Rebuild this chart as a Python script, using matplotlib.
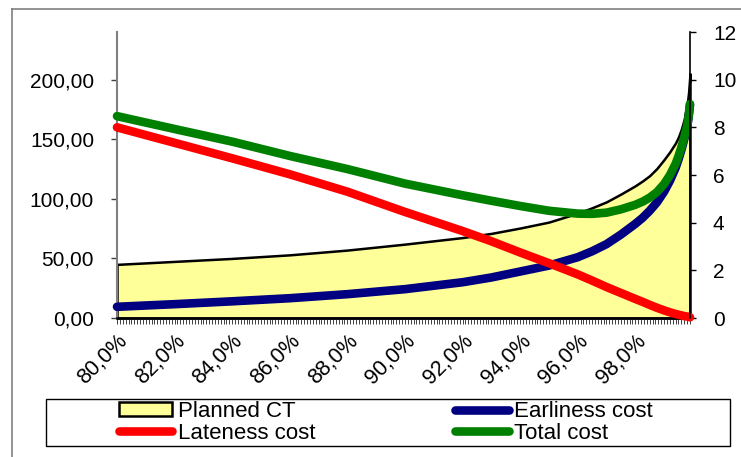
import matplotlib.pyplot as plt
from matplotlib.lines import Line2D
from matplotlib.patches import Patch, Rectangle
from matplotlib.ticker import MultipleLocator

plt.rcParams['font.family'] = ['Liberation Sans', 'DejaVu Sans']

# service level (%) and the values read at each level
service = [80.0, 82.0, 84.0, 86.0, 88.0, 90.0, 92.0, 93.0, 94.0, 95.0, 96.0,
           96.5, 97.0, 97.5, 98.0, 98.25, 98.5, 98.75, 99.0, 99.2, 99.4,
           99.5, 99.6, 99.7, 99.8, 99.85, 99.9]
planned_ct = [45, 47.5, 50, 53, 57, 62, 67.5, 71, 75.5, 80.5, 88,
              92.5, 97.5, 104, 111, 115, 119.5, 125.5, 133, 139.5, 147,
              152, 158.5, 167, 179, 189, 205]
earliness = [0.47, 0.58, 0.70, 0.83, 1.0, 1.21, 1.5, 1.7, 1.95, 2.2, 2.55,
             2.8, 3.1, 3.5, 3.95, 4.2, 4.5, 4.85, 5.3, 5.75, 6.3,
             6.65, 7.05, 7.5, 8.0, 8.4, 8.95]
lateness = [8.0, 7.35, 6.7, 6.03, 5.3, 4.45, 3.65, 3.22, 2.75, 2.3, 1.83,
            1.57, 1.3, 1.05, 0.8, 0.68, 0.55, 0.43, 0.32, 0.24, 0.17,
            0.14, 0.11, 0.08, 0.06, 0.05, 0.03]
total = [8.47, 7.93, 7.4, 6.8, 6.25, 5.64, 5.15, 4.92, 4.7, 4.5, 4.38,
         4.37, 4.42, 4.56, 4.75, 4.88, 5.05, 5.28, 5.62, 5.99, 6.47,
         6.79, 7.16, 7.58, 8.06, 8.45, 8.98]

x_ticks = [80, 82, 84, 86, 88, 90, 92, 94, 96, 98]
x_labels = ["80,0%", "82,0%", "84,0%", "86,0%", "88,0%",
            "90,0%", "92,0%", "94,0%", "96,0%", "98,0%"]
ct_ticks = [0, 50, 100, 150, 200]
ct_labels = ["0,00", "50,00", "100,00", "150,00", "200,00"]
cost_ticks = [0, 2, 4, 6, 8, 10, 12]

W, H = 741, 457
fig = plt.figure(figsize=(W / 100, H / 100), dpi=100)
ax1 = fig.add_axes([117 / W, 1 - 318 / H, 573 / W, 286 / H])
ax2 = ax1.twinx()

ax1.fill_between(service, planned_ct, 0, facecolor='#FFFF99',
                 edgecolor='black', linewidth=1.8, clip_on=False)

lw = 6.2
ax2.plot(service, earliness, color='#000080', lw=lw, solid_capstyle='round',
         solid_joinstyle='round', clip_on=False)
ax2.plot(service, lateness, color='#FF0000', lw=lw, solid_capstyle='round',
         solid_joinstyle='round', clip_on=False)
ax2.plot(service, total, color='#008000', lw=lw, solid_capstyle='round',
         solid_joinstyle='round', clip_on=False)

ax1.set_xlim(80, 99.9)
ax1.set_ylim(0, 240)
ax2.set_ylim(0, 12)

ax1.set_yticks(ct_ticks)
ax1.set_yticklabels(ct_labels)
ax2.set_yticks(cost_ticks)
ax1.set_xticks(x_ticks)
ax1.set_xticklabels(x_labels)
ax1.xaxis.set_minor_locator(MultipleLocator(0.1))

for s in ['top', 'right']:
    ax1.spines[s].set_visible(False)
for s in ['top', 'left', 'bottom']:
    ax2.spines[s].set_visible(False)
ax1.spines['left'].set_color('#808080')
ax1.spines['left'].set_linewidth(1.5)
ax1.spines['bottom'].set_color('black')
ax1.spines['bottom'].set_linewidth(1.8)
ax2.spines['right'].set_color('black')
ax2.spines['right'].set_linewidth(1.2)

fs = 15
ax1.tick_params(axis='y', direction='out', length=4, width=1, color='#404040',
                labelsize=fs, pad=12.5)
ax2.tick_params(axis='y', direction='out', length=4, width=1, color='black',
                labelsize=fs, pad=12.5)
ax1.tick_params(axis='x', which='both', direction='out', length=4, width=0.7,
                color='#404040', labelsize=15.5, pad=5)
for lab in ax1.get_xticklabels():
    lab.set_rotation(45)
    lab.set_ha('right')
    lab.set_va('top')
    lab.set_rotation_mode('anchor')

# outer chart border
fig.add_artist(Line2D([12 / W, 1], [1 - 9 / H, 1 - 9 / H],
                      transform=fig.transFigure, color='#808080', lw=1.2))
fig.add_artist(Line2D([12 / W, 12 / W], [0, 1 - 9 / H],
                      transform=fig.transFigure, color='#808080', lw=1.2))

# legend box
fig.add_artist(Rectangle((46 / W, 1 - 446 / H), 684 / W, 47 / H,
                         transform=fig.transFigure, fill=False,
                         edgecolor='black', lw=1))
handles = [
    Patch(facecolor='#FFFF99', edgecolor='black', lw=1.8),
    Line2D([], [], color='#FF0000', lw=lw, solid_capstyle='round'),
    Line2D([], [], color='#000080', lw=lw, solid_capstyle='round'),
    Line2D([], [], color='#008000', lw=lw, solid_capstyle='round'),
]
labels = ['Planned CT', 'Lateness cost', 'Earliness cost', 'Total cost']
fig.legend(handles, labels, ncol=2, loc='upper left',
           bbox_to_anchor=(119 / W, 1 - 401 / H), frameon=False,
           fontsize=16, borderpad=0, borderaxespad=0, handlelength=2.4,
           handleheight=0.6, handletextpad=0.25, columnspacing=6.3,
           labelspacing=0.03)

fig.savefig('out.png', dpi=100)
